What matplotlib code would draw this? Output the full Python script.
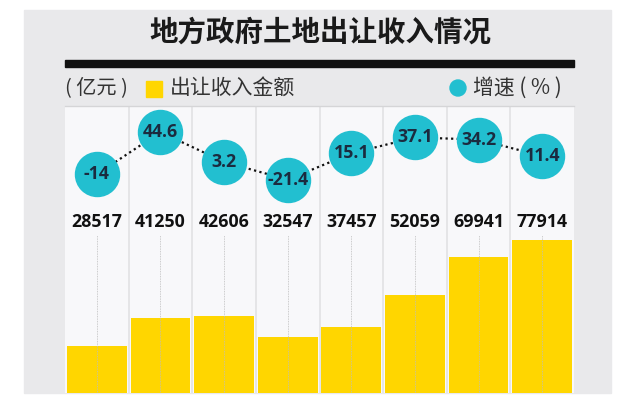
import matplotlib
matplotlib.use("Agg")
from matplotlib import pyplot as plt
from matplotlib import font_manager
from matplotlib.font_manager import FontProperties
from matplotlib.textpath import TextPath
from matplotlib.patches import Rectangle, Ellipse
from matplotlib.transforms import blended_transform_factory

# Données
montants = [28517, 41250, 42606, 32547, 37457, 52059, 69941, 77914]   # 亿元
croissance = [-14, 44.6, 3.2, -21.4, 15.1, 37.1, 34.2, 11.4]         # %
labels_croissance = ["-14", "44.6", "3.2", "-21.4", "15.1", "37.1", "34.2", "11.4"]

titre = "地方政府土地出让收入情况"
unite = "( 亿元 )"
legende_barres = "出让收入金额"
legende_points = "增速 ( % )"

JAUNE = "#ffd600"
CYAN = "#22bfd0"
GRIS = "#e9e9eb"
FOND = "#f8f8fa"

cjk = ["Noto Sans CJK SC", "DejaVu Sans"]


def police_etroite():
    """Cherche la police grasse la plus étroite pour les chiffres"""
    noms = {f.name for f in font_manager.fontManager.ttflist}
    candidats = [("Liberation Sans Narrow", "normal"), ("DejaVu Sans", "condensed"),
                 ("Noto Sans CJK SC", "normal"), ("Roboto", "normal"), ("Lato", "normal"),
                 ("Inter", "normal"), ("Open Sans", "normal"), ("Liberation Sans", "normal")]
    meilleur = None
    for nom, etirement in candidats:
        if nom not in noms:
            continue
        fp = FontProperties(family=nom, weight="bold", stretch=etirement)
        ext = TextPath((0, 0), "28517", size=100, prop=fp).get_extents()
        ratio = ext.width / ext.height
        if meilleur is None or ratio < meilleur[0]:
            meilleur = (ratio, fp, ext.height)
    return meilleur[1], meilleur[2]


fp_num, haut_chiffre = police_etroite()
# hauteur des chiffres ~13 px = 9.36 pt
taille_num = 9.36 * 100 / haut_chiffre

W, H = 640, 404
fig = plt.figure(figsize=(W / 100, H / 100), dpi=100)
fig.patch.set_facecolor("white")


def px(x0, y0, x1, y1):
    """rectangle en pixels (origine en haut) -> coordonnées figure"""
    return (x0 / W, 1 - y1 / H), (x1 - x0) / W, (y1 - y0) / H


# panneau gris
xy, w, h = px(24, 10, 611, 393)
fig.patches.append(Rectangle(xy, w, h, transform=fig.transFigure, color=GRIS, zorder=-5))
# barre noire sous le titre
xy, w, h = px(65, 60, 574, 66.5)
fig.patches.append(Rectangle(xy, w, h, transform=fig.transFigure, color="#111111", zorder=1))
# carré jaune de la légende
xy, w, h = px(146, 81, 162, 97)
fig.patches.append(Rectangle(xy, w, h, transform=fig.transFigure, color=JAUNE, zorder=1))
# rond cyan de la légende
fig.patches.append(Ellipse((458 / W, 1 - 88 / H), 16 / W, 16 / H, transform=fig.transFigure,
                           color=CYAN, zorder=1))

fig.text(320 / W, 1 - 33 / H, titre, ha="center", va="center", fontsize=20.5,
         fontweight="bold", family=cjk, color="#1a1a1a")
fig.text(65 / W, 1 - 88 / H, unite, ha="left", va="center", fontsize=14.5,
         family=cjk, color="#333333")
fig.text(170 / W, 1 - 88 / H, legende_barres, ha="left", va="center", fontsize=15,
         family=cjk, color="#333333")
fig.text(473 / W, 1 - 88 / H, legende_points, ha="left", va="center", fontsize=15,
         family=cjk, color="#333333")

# zone du graphique
ax = fig.add_axes([65 / W, 1 - 393 / H, 509 / W, 287 / H])
ax.set_facecolor(FOND)
x = list(range(len(montants)))
ax.bar(x, montants, width=0.94, color=JAUNE, zorder=2)
ax.set_xlim(-0.5, len(montants) - 0.5)
ax.set_ylim(6300, 140800)

for i in x:
    ax.axvline(i, ymin=0, ymax=0.55, color="#bdbdbd", lw=0.6, ls=(0, (1, 1)), zorder=3)
for i in x[:-1]:
    ax.axvline(i + 0.5, color="#e2e2e4", lw=1.2, zorder=1)

trans = blended_transform_factory(ax.transData, ax.transAxes)
for i, v in zip(x, montants):
    ax.text(i, 0.597, str(v), transform=trans, ha="center", va="center",
            fontproperties=fp_num, fontsize=taille_num, color="#111111")

ax.set_xticks([])
ax.set_yticks([])
for cote in ["left", "right", "bottom"]:
    ax.spines[cote].set_visible(False)
ax.spines["top"].set_color("#d5d5d7")
ax.spines["top"].set_linewidth(1)

# croissance sur un second axe
ax2 = ax.twinx()
ax2.set_ylim(-317, 80.7)
ax2.plot(x, croissance, color="#111111", lw=1.6, ls=(0, (1, 1.5)), zorder=4)
ax2.plot(x, croissance, "o", ms=31.7, color=CYAN, zorder=5)
for i, v, t in zip(x, croissance, labels_croissance):
    ax2.text(i, v, t, ha="center", va="center", fontproperties=fp_num,
             fontsize=taille_num, color="#1b2b3f", zorder=6)
ax2.set_yticks([])
for cote in ax2.spines:
    ax2.spines[cote].set_visible(False)

plt.savefig("out.png", dpi=100)
